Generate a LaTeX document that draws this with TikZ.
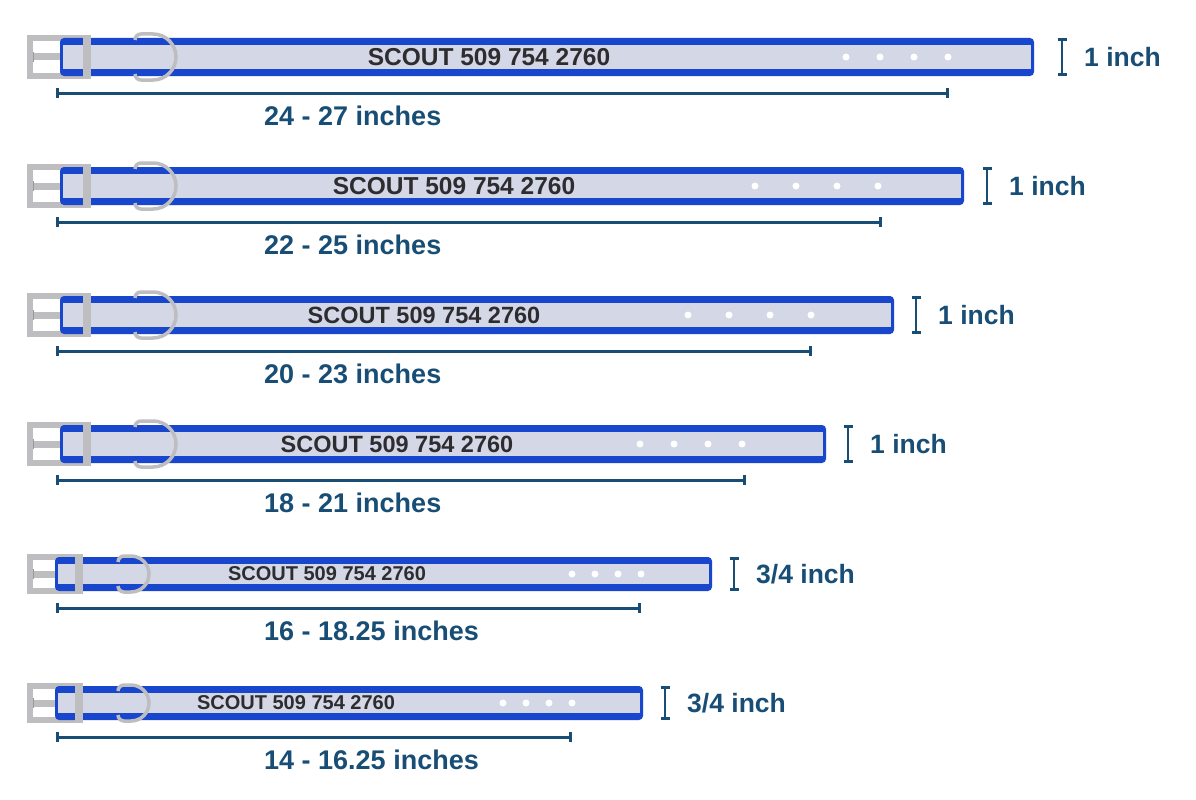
\documentclass[tikz,border=0pt]{standalone}
\usepackage{fontspec}
\setmainfont{Liberation Sans}
\usetikzlibrary{positioning,arrows.meta}
\definecolor{strapblue}{RGB}{24,70,205}
\definecolor{strapgray}{RGB}{212,215,230}
\definecolor{metalgray}{RGB}{190,190,193}
\definecolor{dimteal}{RGB}{24,78,118}
\definecolor{textdark}{RGB}{45,45,48}

\begin{document}
\begin{tikzpicture}[
        x=1pt, y=-1pt,
        strap/.style={fill=strapblue, rounded corners=4pt},
        band/.style={fill=strapgray},
        metal/.style={draw=metalgray, line width=#1},
        metal/.default=3.5pt,
        dimline/.style={draw=dimteal, line width=3pt, {Bar[width=10pt]}-{Bar[width=10pt]}},
        ibeam/.style={draw=dimteal, line width=2.6pt, {Bar[width=9pt]}-{Bar[width=9pt]}},
        tag/.style={text=textdark, inner sep=0pt},
        sizelbl/.style={font=\bfseries\fontsize{27}{27}\selectfont, text=dimteal, anchor=west, inner sep=0pt},
        hole/.style={fill=white, circle, inner sep=0pt, minimum size=7pt}
    ]
    \fill[white] (0,0) rectangle (1196,800);
    \useasboundingbox (0,0) rectangle (1196,800);
    % one collar per row: centre, half height, strap end, tag centre, tag size,
    % first hole, hole step, dimension end, width bar, width, length
    \foreach \i/\y/\h/\e/\tx/\fs/\ha/\hs/\d/\ib/\w/\len in {
        1/57/19/1034/489/24.5/846/34/949/1062/{1 inch}/{24 - 27 inches},
        2/186/19/964/454/24.5/755/41/882/987/{1 inch}/{22 - 25 inches},
        3/315/19/894/424/23.5/688/41/812/916/{1 inch}/{20 - 23 inches},
        4/444/19/826/397/23.5/640/34/746/848/{1 inch}/{18 - 21 inches},
        5/574/17/712/327/20/572/23/641/734/{3/4 inch}/{16 - 18.25 inches},
        6/703/17/643/296/20/503/23/572/665/{3/4 inch}/{14 - 16.25 inches}} {
        \pgfmathsetmacro\k{(\h-17)/2}
        \pgfmathsetmacro\bR{83+8*\k}
        \pgfmathsetmacro\sL{55+5*\k}
        \pgfmathsetmacro\lL{118+17*\k}
        \pgfmathsetmacro\lr{18+5*\k}
        % buckle frame and prong
        \draw[metal=6pt] (30,\y-\h) rectangle (\bR-3,\y+\h);
        \draw[metal=7pt] (31,\y) -- (\sL,\y);
        \draw[draw=gray!80, line width=0.8pt] (33,\y-5) -- (33,\y+5);
        % strap
        \path[strap] (\sL,\y-\h) rectangle (\e,\y+\h);
        \path[band] (\sL+3,\y-\h+7) rectangle (\e-3,\y+\h-7);
        \fill[metalgray] (\bR-8,\y-\h-3) rectangle (\bR,\y+\h+3);
        % keeper loop
        \draw[metal] (\lL,\y-\lr+6) to[out=90,in=180] (\lL+6,\y-\lr) -- (\lL+\lr-5,\y-\lr)
            arc (90:-90:\lr pt) -- (\lL+6,\y+\lr) to[out=180,in=-90] (\lL,\y+\lr-6);
        \node[tag, font=\bfseries\fontsize{\fs}{\fs}\selectfont] (tag\i) at (\tx,\y) {SCOUT 509 754 2760};
        \foreach \j in {0,...,3}
            \node[hole] (hole\i\j) at (\ha+\j*\hs,\y) {};
        % length
        \coordinate (dimL\i) at (56,\y+\h+17);
        \coordinate (dimR\i) at (\d,\y+\h+17);
        \draw[dimline] (dimL\i) -- (dimR\i);
        \node[sizelbl] (len\i) at (264,\y+\h+40) {\len};
        % width
        \coordinate (ibT\i) at (\ib,\y-\h);
        \coordinate (ibB\i) at (\ib,\y+\h);
        \draw[ibeam] (ibT\i) -- (ibB\i);
        \node[sizelbl, font=\bfseries\fontsize{26.5}{26.5}\selectfont] (wid\i) at (\ib+22,\y) {\w};
    }
\end{tikzpicture}
\end{document}
